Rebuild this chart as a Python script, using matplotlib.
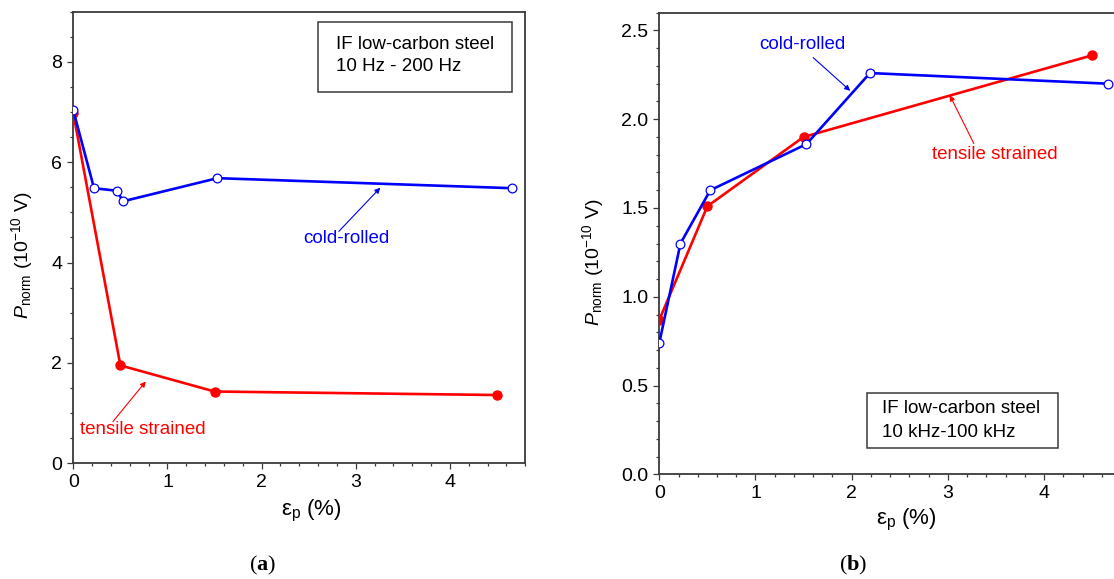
import matplotlib
matplotlib.use('Agg')
import matplotlib.pyplot as plt
from matplotlib.patches import Rectangle
from matplotlib.ticker import MultipleLocator

plt.rcParams['font.family'] = ['Liberation Sans', 'DejaVu Sans']
plt.rcParams['mathtext.fontset'] = 'custom'
plt.rcParams['mathtext.rm'] = 'Liberation Sans'
plt.rcParams['mathtext.it'] = 'Liberation Sans:italic'
plt.rcParams['mathtext.bf'] = 'Liberation Serif:bold'

# (a) 10 Hz - 200 Hz
a_cold_x = [0.0, 0.22, 0.46, 0.53, 1.53, 4.66]
a_cold_y = [7.03, 5.48, 5.43, 5.22, 5.68, 5.48]
a_tens_x = [0.0, 0.5, 1.5, 4.5]
a_tens_y = [6.97, 1.95, 1.43, 1.36]

# (b) 10 kHz - 100 kHz
b_cold_x = [0.0, 0.22, 0.53, 1.53, 2.19, 4.67]
b_cold_y = [0.74, 1.30, 1.60, 1.86, 2.26, 2.20]
b_tens_x = [0.0, 0.5, 1.5, 4.5]
b_tens_y = [0.87, 1.51, 1.90, 2.36]

BLUE = '#0000ff'
RED = '#ff0000'
SPINE = '#3a3a3a'

W, H = 1114, 579
fig = plt.figure(figsize=(W / 100, H / 100), dpi=100)

ax1 = fig.add_axes([73.3 / W, 1 - 463.3 / H, 452 / W, 451.8 / H])
ax2 = fig.add_axes([659.3 / W, 1 - 474.3 / H, 461.7 / W, 461.6 / H])


def style_axes(ax, xmaj, xmin, ymaj, ymin):
    for s in ax.spines.values():
        s.set_color(SPINE)
        s.set_linewidth(1.3)
    ax.xaxis.set_major_locator(MultipleLocator(xmaj))
    ax.xaxis.set_minor_locator(MultipleLocator(xmin))
    ax.yaxis.set_major_locator(MultipleLocator(ymaj))
    ax.yaxis.set_minor_locator(MultipleLocator(ymin))
    ax.tick_params(which='both', direction='out', color=SPINE, width=0.9,
                   labelsize=14, pad=4)
    ax.tick_params(which='major', length=4)
    ax.tick_params(which='minor', length=2.3)


def plot_series(ax, cx, cy, tx, ty):
    ax.plot(tx, ty, color=RED, lw=1.9, marker='o', ms=6.5, mfc=RED, mec=RED, zorder=3)
    ax.plot(cx, cy, color=BLUE, lw=1.9, marker='o', ms=6.3, mfc='white', mec=BLUE,
            mew=0.9, zorder=4)


# ---- panel (a)
plot_series(ax1, a_cold_x, a_cold_y, a_tens_x, a_tens_y)
ax1.set_xlim(0, 4.8)
ax1.set_ylim(0, 9)
style_axes(ax1, 1, 0.2, 2, 0.5)

ax1.add_patch(Rectangle((2.60, 7.40), 2.06, 1.40, fill=False, ec=SPINE, lw=1.1, zorder=5))
ax1.text(2.79, 8.35, 'IF low-carbon steel', fontsize=13.5, va='center', ha='left')
ax1.text(2.79, 7.90, '10 Hz - 200 Hz', fontsize=13.5, va='center', ha='left')

arrow_b = dict(arrowstyle='-|>', color=BLUE, lw=0.8, mutation_scale=8, shrinkA=0, shrinkB=0)
arrow_r = dict(arrowstyle='-|>', color=RED, lw=0.8, mutation_scale=8, shrinkA=0, shrinkB=0)

ax1.annotate('', xy=(3.26, 5.49), xytext=(2.82, 4.62), arrowprops=arrow_b)
ax1.text(2.90, 4.47, 'cold-rolled', color=BLUE, fontsize=13.5, ha='center', va='center')
ax1.annotate('', xy=(0.77, 1.63), xytext=(0.42, 0.83), arrowprops=arrow_r)
ax1.text(0.74, 0.68, 'tensile strained', color=RED, fontsize=13.5, ha='center', va='center')

ax1.set_ylabel(r'$P_{\mathrm{norm}}$ (10$^{-10}$ V)', fontsize=14)
ax1.yaxis.set_label_coords(-0.085, 0.46)
ax1.set_xlabel('ε$_\\mathrm{p}$ (%)', fontsize=16)
ax1.xaxis.set_label_coords(0.526, -0.077)

# ---- panel (b)
plot_series(ax2, b_cold_x, b_cold_y, b_tens_x, b_tens_y)
ax2.set_xlim(0, 4.8)
ax2.set_ylim(0, 2.6)
style_axes(ax2, 1, 0.2, 0.5, 0.1)
ax2.yaxis.set_major_formatter(plt.FormatStrFormatter('%.1f'))

ax2.add_patch(Rectangle((2.16, 0.146), 1.99, 0.31, fill=False, ec=SPINE, lw=1.1, zorder=5))
ax2.text(2.32, 0.368, 'IF low-carbon steel', fontsize=13.5, va='center', ha='left')
ax2.text(2.32, 0.234, '10 kHz-100 kHz', fontsize=13.5, va='center', ha='left')

ax2.annotate('', xy=(1.985, 2.16), xytext=(1.60, 2.347), arrowprops=arrow_b)
ax2.text(1.49, 2.42, 'cold-rolled', color=BLUE, fontsize=13.5, ha='center', va='center')
ax2.annotate('', xy=(3.02, 2.135), xytext=(3.27, 1.863), arrowprops=arrow_r)
ax2.text(3.49, 1.80, 'tensile strained', color=RED, fontsize=13.5, ha='center', va='center')

ax2.set_ylabel(r'$P_{\mathrm{norm}}$ (10$^{-10}$ V)', fontsize=14)
ax2.yaxis.set_label_coords(-0.115, 0.46)
ax2.set_xlabel('ε$_\\mathrm{p}$ (%)', fontsize=16)
ax2.xaxis.set_label_coords(0.536, -0.071)

# captions
fig.text(263 / W, 1 - 565 / H, r'($\mathbf{a}$)', family='Liberation Serif',
         fontsize=16, ha='center', va='center')
fig.text(853 / W, 1 - 565 / H, r'($\mathbf{b}$)', family='Liberation Serif',
         fontsize=16, ha='center', va='center')

fig.savefig('out.png', dpi=100)
